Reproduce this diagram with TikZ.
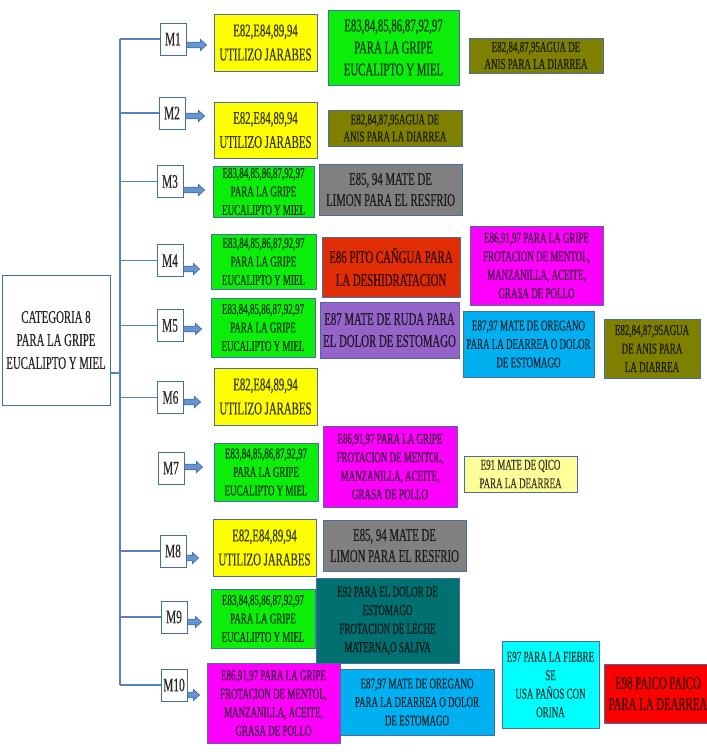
\documentclass[tikz,border=0pt]{standalone}
\usepackage{fontspec}
\setmainfont{Liberation Serif}[FakeStretch=0.6,FakeBold=0.35]
\usetikzlibrary{arrows.meta,calc}
\definecolor{lineblue}{RGB}{84,130,192}
\definecolor{edgeblue}{RGB}{70,110,160}
\definecolor{arrowblue}{RGB}{100,148,210}
\definecolor{cyel}{RGB}{255,255,0}
\definecolor{cgrn}{RGB}{10,238,10}
\definecolor{colv}{RGB}{128,128,0}
\definecolor{cgray}{RGB}{128,128,128}
\definecolor{corg}{RGB}{225,45,5}
\definecolor{cmag}{RGB}{255,0,255}
\definecolor{cpur}{RGB}{150,100,200}
\definecolor{csky}{RGB}{0,176,240}
\definecolor{cpale}{RGB}{255,255,153}
\definecolor{cteal}{RGB}{0,112,112}
\definecolor{ccyan}{RGB}{0,255,255}
\definecolor{cred}{RGB}{255,0,0}
\begin{document}
\begin{tikzpicture}[x=1pt,y=-1pt,
  box/.style={draw=edgeblue, line width=0.9pt, align=center, inner sep=0pt},
  fb/.style={box, fill=#1, text=#1!22!black},
  wh/.style 2 args={minimum width=#1, minimum height=#2},
  fA/.style={font=\fontsize{18}{24}\selectfont},
  fB/.style={font=\fontsize{18}{22}\selectfont},
  fC/.style={font=\fontsize{15}{18.5}\selectfont},
  fD/.style={font=\fontsize{15}{17}\selectfont},
  mbox/.style={box, fill=white, wh={26}{32}, font=\fontsize{19}{20}\selectfont, text=black!85},
  tree/.style={draw=lineblue, line width=1.3pt},
  blockarrow/.style={draw=edgeblue, fill=arrowblue, line width=0.7pt, line join=miter}
]
\useasboundingbox (0,0) rectangle (707,756);
\fill[white] (0,0) rectangle (707,756);

% category
\node[box, fill=white, wh={108}{130}, font=\fontsize{18}{23}\selectfont, text=black!85] (cat) at (56,340) {CATEGORIA 8\\PARA LA GRIPE\\EUCALIPTO Y MIEL};

% M boxes
\node[mbox] (M1) at (173,39) {M1};
\node[mbox] (M2) at (172,113) {M2};
\node[mbox] (M3) at (170,181.5) {M3};
\node[mbox] (M4) at (170,260.5) {M4};
\node[mbox] (M5) at (170,325.5) {M5};
\node[mbox] (M6) at (170.5,397.5) {M6};
\node[mbox] (M7) at (171,468) {M7};
\node[mbox] (M8) at (173,551) {M8};
\node[mbox] (M9) at (174,617) {M9};
\node[mbox] (M10) at (174,685) {M10};

% row M1
\node[fb=cyel, wh={103}{57}, fA] (Y1) at (265.5,42.5) {E82,E84,89,94\\UTILIZO JARABES};
\node[fb=cgrn, wh={131}{75}, fB] (G1) at (393.5,47.5) {E83,84,85,86,87,92,97\\PARA LA GRIPE\\EUCALIPTO Y MIEL};
\node[fb=colv, wh={134}{35}, fD] (O1) at (536,55.5) {E82,84,87,95AGUA DE\\ANIS PARA LA DIARREA};
% row M2
\node[fb=cyel, wh={103}{56}, fA] (Y2) at (265.5,130) {E82,E84,89,94\\UTILIZO JARABES};
\node[fb=colv, wh={134}{36}, fD] (O2) at (395,128) {E82,84,87,95AGUA DE\\ANIS PARA LA DIARREA};
% row M3
\node[fb=cgrn, wh={101}{51}, fC] (G3) at (263.5,191.5) {E83,84,85,86,87,92,97\\PARA LA GRIPE\\EUCALIPTO Y MIEL};
\node[fb=cgray, wh={143}{51}, font=\fontsize{18}{21}\selectfont] (Gr3) at (390.5,189.5) {E85, 94 MATE DE\\LIMON PARA EL RESFRIO};
% row M4
\node[fb=cgrn, wh={105}{55}, fC] (G4) at (263.5,261.5) {E83,84,85,86,87,92,97\\PARA LA GRIPE\\EUCALIPTO Y MIEL};
\node[fb=corg, wh={138}{60}, font=\fontsize{18}{23}\selectfont] (R4) at (391,267) {E86 PITO CAÑGUA PARA\\LA DESHIDRATACION};
\node[fb=cmag, wh={133}{79}, fC] (Mg4) at (536.5,265.5) {E86,91,97 PARA LA GRIPE\\FROTACION DE MENTOL,\\MANZANILLA, ACEITE,\\GRASA DE POLLO};
% row M5
\node[fb=cgrn, wh={104}{59}, fC] (G5) at (263,327.5) {E83,84,85,86,87,92,97\\PARA LA GRIPE\\EUCALIPTO Y MIEL};
\node[fb=cpur, wh={139}{56}, fB] (P5) at (389.5,330) {E87 MATE DE RUDA PARA\\EL DOLOR DE ESTOMAGO};
\node[fb=csky, wh={131}{66}, fC] (B5) at (528.5,344) {E87,97 MATE DE OREGANO\\PARA LA DEARREA O DOLOR\\DE ESTOMAGO};
\node[fb=colv, wh={96}{59}, fC] (O5) at (652,348.5) {E82,84,87,95AGUA\\DE ANIS PARA\\LA DIARREA};
% row M6
\node[fb=cyel, wh={103}{57}, fA] (Y6) at (265.5,396.5) {E82,E84,89,94\\UTILIZO JARABES};
% row M7
\node[fb=cgrn, wh={104}{58}, fC] (G7) at (266,472) {E83,84,85,86,87,92,97\\PARA LA GRIPE\\EUCALIPTO Y MIEL};
\node[fb=cmag, wh={134}{81}, fC] (Mg7) at (390,466.5) {E86,91,97 PARA LA GRIPE\\FROTACION DE MENTOL,\\MANZANILLA, ACEITE,\\GRASA DE POLLO};
\node[fb=cpale, wh={113}{36}, fC] (LY7) at (520.5,474) {E91 MATE DE QICO\\PARA LA DEARREA};
% row M8
\node[fb=cyel, wh={103}{57}, fA] (Y8) at (264.5,547.5) {E82,E84,89,94\\UTILIZO JARABES};
\node[fb=cgray, wh={143}{51}, font=\fontsize{18}{21}\selectfont] (Gr8) at (394.5,545.5) {E85, 94 MATE DE\\LIMON PARA EL RESFRIO};
% row M9
\node[fb=cgrn, wh={104}{59}, fC] (G9) at (263,618.5) {E83,84,85,86,87,92,97\\PARA LA GRIPE\\EUCALIPTO Y MIEL};
\node[fb=cteal, wh={143}{85}, fC] (T9) at (387.5,620.5) {E92 PARA EL DOLOR DE\\ESTOMAGO\\FROTACION DE LECHE\\MATERNA,O SALIVA};
% row M10
\node[fb=cmag, wh={133}{80}, fC] (Mg10) at (273.5,703) {E86,91,97 PARA LA GRIPE\\FROTACION DE MENTOL,\\MANZANILLA, ACEITE,\\GRASA DE POLLO};
\node[fb=csky, wh={154}{66}, fC] (B10) at (417,702) {E87,97 MATE DE OREGANO\\PARA LA DEARREA O DOLOR\\DE ESTOMAGO};
\node[fb=ccyan, wh={97}{87}, fC] (C10) at (550.5,684.5) {E97 PARA LA FIEBRE\\SE\\USA PAÑOS CON\\ORINA};
\node[fb=cred, wh={108}{59}, font=\fontsize{18}{21}\selectfont] (R10) at (658,693.5) {E98 PAICO PAICO\\PARA LA DEARREA};

% tree
\coordinate (T) at (120,0);
\draw[tree] (T |- M1.west) -- (T |- M10.west);
\foreach \m in {M1,M2,M3,M4,M5,M6,M8,M9,M10}
  \draw[tree] (T |- \m.west) -- (\m.west);
\draw[tree] ([yshift=-33pt]cat.east) -- ([yshift=-33pt]cat.east -| T);

% block arrows from each M box towards its first box
\foreach \m/\t/\s/\g in {M1/Y1/-6pt/7pt, M2/Y2/-3pt/9pt, M3/G3/-8.5pt/8pt, M4/G4/-8.5pt/11pt, M5/G5/-3.5pt/9pt, M6/Y6/-4.5pt/13pt, M7/G7/1pt/11pt, M8/Y8/-7pt/14pt, M9/G9/-5pt/9pt, M10/Mg10/-10pt/7pt}
  \path[blockarrow] let \p1=([yshift=\s]\m.east), \p2=(\t.west) in
    (\x1,{\y1+2.8pt}) -- ({\x2-\g-6pt},{\y1+2.8pt}) -- ({\x2-\g-6pt},{\y1+5.5pt})
    -- ({\x2-\g},\y1) -- ({\x2-\g-6pt},{\y1-5.5pt}) -- ({\x2-\g-6pt},{\y1-2.8pt})
    -- (\x1,{\y1-2.8pt}) -- cycle;
\end{tikzpicture}
\end{document}
